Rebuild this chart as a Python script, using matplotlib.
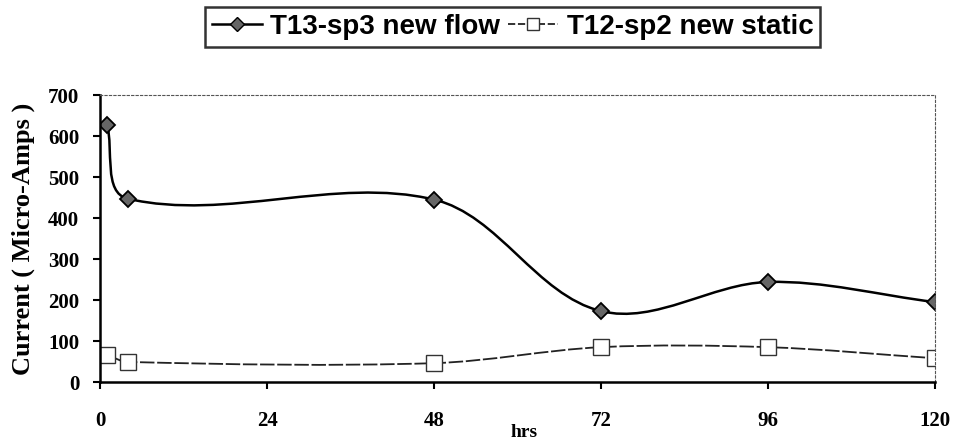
import numpy as np
import matplotlib
matplotlib.use("Agg")
import matplotlib.pyplot as plt
from matplotlib.path import Path
from matplotlib.patches import PathPatch
from matplotlib.lines import Line2D

# data
hours = [1, 4, 48, 72, 96, 120]
flow = [628, 447, 445, 173, 244, 195]
static = [66, 49, 46, 85, 85, 58]
xticks = [0, 24, 48, 72, 96, 120]
yticks = [0, 100, 200, 300, 400, 500, 600, 700]

AX_W, AX_H = 835.0, 287.0  # axes size in pixels, used to smooth in screen space


def smooth_path(x, y, xmax=120.0, ymax=700.0):
    # Excel-like smoothed line, bezier handles scaled by chord length (no overshoot)
    sx, sy = AX_W / xmax, AX_H / ymax
    P = np.column_stack([np.asarray(x, float) * sx, np.asarray(y, float) * sy])
    n = len(P)
    tang = []
    for i in range(n):
        d = P[min(i + 1, n - 1)] - P[max(i - 1, 0)]
        tang.append(d / np.hypot(*d))
    verts = [tuple(P[0])]
    codes = [Path.MOVETO]
    for i in range(n - 1):
        L = np.hypot(*(P[i + 1] - P[i]))
        c1 = P[i] + tang[i] * L / 3.0
        c2 = P[i + 1] - tang[i + 1] * L / 3.0
        verts += [tuple(c1), tuple(c2), tuple(P[i + 1])]
        codes += [Path.CURVE4] * 3
    verts = [(vx / sx, vy / sy) for vx, vy in verts]
    return Path(verts, codes)


serif = ["Liberation Serif", "DejaVu Serif"]
sans = ["Liberation Sans", "DejaVu Sans"]

fig = plt.figure(figsize=(9.58, 4.44), dpi=100)
ax = fig.add_axes([0.1044, 0.1396, 0.8716, 0.6464])

ax.add_patch(PathPatch(smooth_path(hours, flow), fill=False, lw=1.8, ec="black"))
ax.add_patch(PathPatch(smooth_path(hours, static), fill=False, lw=1.3, ec="#222222",
                       ls=(0, (8, 1.5))))
ax.plot(hours, flow, ls="none", marker="D", ms=8, mfc="#666666", mec="black", mew=1.3)
ax.plot(hours, static, ls="none", marker="s", ms=11, mfc="white", mec="#333333", mew=1.0)

ax.set_xlim(0, 120)
ax.set_ylim(0, 700)
ax.set_xticks(xticks)
ax.set_yticks(yticks)
ax.tick_params(direction="out", length=5, width=1.5, colors="black")
for lab in ax.get_xticklabels() + ax.get_yticklabels():
    lab.set_family(serif)
    lab.set_fontweight("bold")
    lab.set_fontsize(15)
ax.tick_params(axis="x", pad=16)
ax.tick_params(axis="y", pad=10)

for side in ["top", "right"]:
    ax.spines[side].set_linestyle((0, (2, 2)))
    ax.spines[side].set_linewidth(0.8)
    ax.spines[side].set_color("#555555")
for side in ["left", "bottom"]:
    ax.spines[side].set_linewidth(1.8)

ax.set_ylabel("Current ( Micro-Amps )", family=serif, fontweight="bold", fontsize=19)
ax.yaxis.set_label_coords(-0.078, 0.5)
ax.set_xlabel("hrs", family=serif, fontweight="bold", fontsize=14)
ax.xaxis.set_label_coords(0.508, -0.145)

handles = [
    Line2D([0], [0], color="black", lw=1.8, marker="D", ms=7, mfc="#666666", mec="black"),
    Line2D([0], [0], color="#222222", lw=1.3, ls=(0, (4, 1.5)), marker="s", ms=9,
           mfc="white", mec="#333333"),
]
leg = fig.legend(handles, ["T13-sp3 new flow", "T12-sp2 new static"], loc="upper center",
                 bbox_to_anchor=(0.535, 1.015), ncol=2, frameon=True, fancybox=False,
                 prop={"family": sans, "weight": "bold", "size": 20},
                 handlelength=1.8, handletextpad=0.3, columnspacing=0.3,
                 borderpad=0.25, edgecolor="black")
leg.get_frame().set_linewidth(1.8)

fig.savefig("out.png", dpi=100)
